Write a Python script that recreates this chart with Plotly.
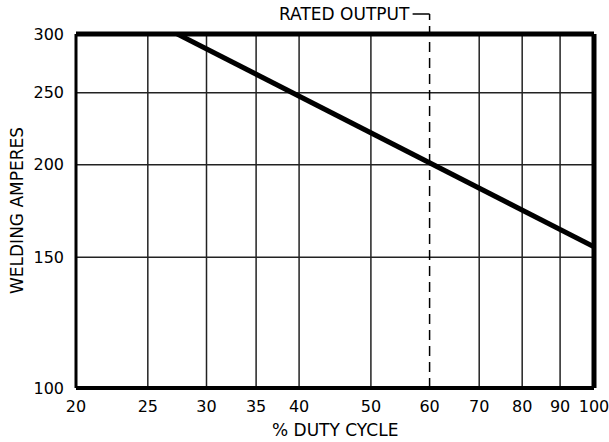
import plotly.graph_objects as go
import math

# Data
duty_cycle = [27.4, 100]
amps = [300, 155]
x_ticks = [20, 25, 30, 35, 40, 50, 60, 70, 80, 90, 100]
y_ticks = [100, 150, 200, 250, 300]
x_grid = [25, 30, 35, 40, 50, 70, 80, 90]
y_grid = [150, 200, 250]
rated_duty = 60

FONT = "DejaVu Sans"

fig = go.Figure()
fig.add_trace(go.Scatter(x=duty_cycle, y=amps, mode="lines",
                         line=dict(color="black", width=5), cliponaxis=True,
                         showlegend=False, hoverinfo="skip"))

shapes = []
for gx in x_grid:
    shapes.append(dict(type="line", xref="x", yref="paper", x0=gx, x1=gx, y0=0, y1=1,
                       line=dict(color="#222", width=1.5), layer="below"))
for gy in y_grid:
    shapes.append(dict(type="line", xref="paper", yref="y", x0=0, x1=1, y0=gy, y1=gy,
                       line=dict(color="#222", width=1.5), layer="below"))
# rated output dashed line
top_ext = 1 + (34 - 14) / 354
shapes.append(dict(type="line", xref="x", yref="paper", x0=rated_duty, x1=rated_duty,
                   y0=0, y1=top_ext, line=dict(color="black", width=1.5, dash="10px,6px")))
shapes.append(dict(type="line", xref="x", yref="paper", x0=rated_duty * math.exp(-17 / 322),
                   x1=rated_duty, y0=top_ext, y1=top_ext, line=dict(color="black", width=1.5)))
# frame
shapes += [
    dict(type="line", xref="paper", yref="paper", x0=0, x1=1, y0=1, y1=1, line=dict(color="black", width=5)),
    dict(type="line", xref="paper", yref="paper", x0=0, x1=1, y0=0, y1=0, line=dict(color="black", width=4)),
    dict(type="line", xref="paper", yref="paper", x0=0, x1=0, y0=0, y1=1, line=dict(color="black", width=3)),
    dict(type="line", xref="paper", yref="paper", x0=1, x1=1, y0=0, y1=1, line=dict(color="black", width=5)),
]

annotations = [
    dict(text="RATED OUTPUT", xref="x", yref="paper", x=math.log10(rated_duty * math.exp(-18 / 322)),
         y=1 + (34 - 14) / 354, xanchor="right", yanchor="middle", showarrow=False,
         font=dict(family=FONT, size=17, color="black")),
    dict(text="% DUTY CYCLE", xref="paper", yref="paper", x=0.5, y=-(430 - 388) / 354,
         xanchor="center", yanchor="middle", showarrow=False,
         font=dict(family=FONT, size=17, color="black")),
    dict(text="WELDING AMPERES", xref="paper", yref="paper", x=-(76 - 17) / 518, y=0.5,
         xanchor="center", yanchor="middle", textangle=-90, showarrow=False,
         font=dict(family=FONT, size=17, color="black")),
]

fig.update_layout(
    width=609, height=442,
    margin=dict(l=76, r=15, t=34, b=54, autoexpand=False),
    paper_bgcolor="white", plot_bgcolor="white",
    font=dict(family=FONT, size=16, color="black"),
    shapes=shapes, annotations=annotations,
    xaxis=dict(type="log", range=[math.log10(20), math.log10(100)],
               tickvals=x_ticks, ticktext=[str(v) for v in x_ticks],
               showgrid=False, zeroline=False, showline=False, ticks="",
               ticklabelstandoff=7, automargin=False, ticklabeloverflow="allow"),
    yaxis=dict(type="log", range=[2, math.log10(300)],
               tickvals=y_ticks, ticktext=[str(v) for v in y_ticks],
               showgrid=False, zeroline=False, showline=False, ticks="",
               ticklabelstandoff=11, automargin=False, ticklabeloverflow="allow"),
)

fig.write_html("out.html", config={"displayModeBar": False},
               post_script="document.body.style.margin='0';")
